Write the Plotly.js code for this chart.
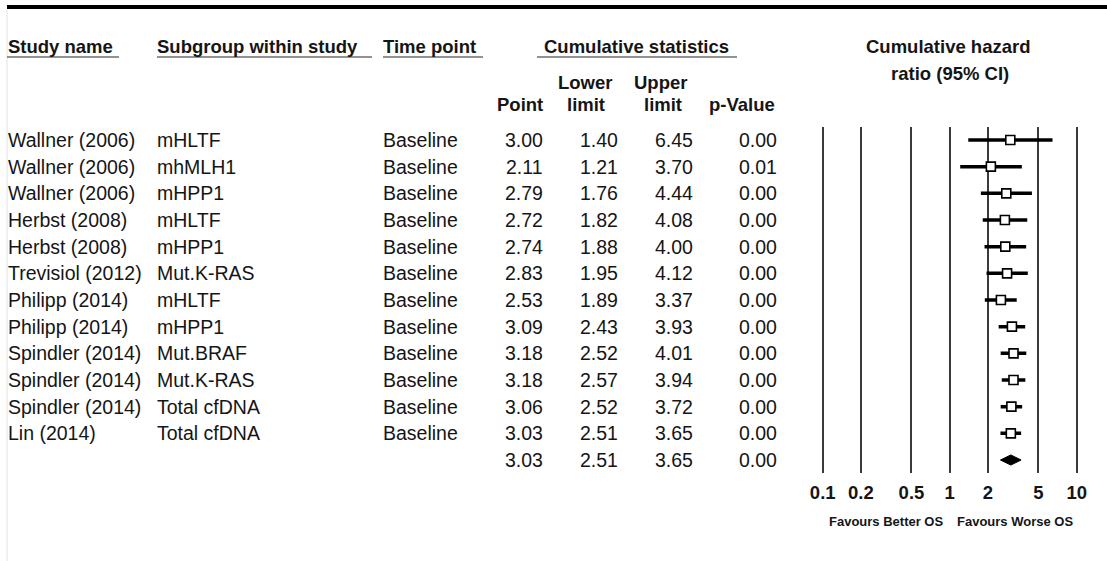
<!DOCTYPE html>
<html>
<head>
<meta charset="utf-8">
<script src="https://cdn.plot.ly/plotly-3.0.1.min.js"></script>
<style>html,body{margin:0;padding:0;background:#fff;}#chart{width:1107px;height:561px;}</style>
</head>
<body>
<div id="chart"></div>
<script>
// ---- data ----
const studyNames = ["Wallner (2006)","Wallner (2006)","Wallner (2006)","Herbst (2008)","Herbst (2008)","Trevisiol (2012)","Philipp (2014)","Philipp (2014)","Spindler (2014)","Spindler (2014)","Spindler (2014)","Lin (2014)"];
const subgroups = ["mHLTF","mhMLH1","mHPP1","mHLTF","mHPP1","Mut.K-RAS","mHLTF","mHPP1","Mut.BRAF","Mut.K-RAS","Total cfDNA","Total cfDNA"];
const timePoints = ["Baseline","Baseline","Baseline","Baseline","Baseline","Baseline","Baseline","Baseline","Baseline","Baseline","Baseline","Baseline"];
const pointHR = [3.00,2.11,2.79,2.72,2.74,2.83,2.53,3.09,3.18,3.18,3.06,3.03];
const lowerCI = [1.40,1.21,1.76,1.82,1.88,1.95,1.89,2.43,2.52,2.57,2.52,2.51];
const upperCI = [6.45,3.70,4.44,4.08,4.00,4.12,3.37,3.93,4.01,3.94,3.72,3.65];
const pValues = [0.00,0.01,0.00,0.00,0.00,0.00,0.00,0.00,0.00,0.00,0.00,0.00];
const summaryPoint = 3.03, summaryLower = 2.51, summaryUpper = 3.65, summaryP = 0.00;
const tickVals = [0.1,0.2,0.5,1,2,5,10];
const tickLabels = ["0.1","0.2","0.5","1","2","5","10"];

// ---- layout helpers ----
const W = 1107, H = 561;
const px = v => v / W;
const py = v => 1 - v / H;
const FONT = "Liberation Sans, Arial, sans-serif";
const TXT = "#151515";
const n = studyNames.length;
const rows = studyNames.map((_, i) => i);
const summaryRow = n;

// CI lines
const ciX = [], ciY = [];
rows.forEach(i => { ciX.push(lowerCI[i], upperCI[i], null); ciY.push(i, i, null); });

const dh = 0.19;
const traces = [
  {type:'scatter', mode:'lines', x:ciX, y:ciY, line:{color:'#000', width:3.5}, hoverinfo:'skip', showlegend:false},
  {type:'scatter', mode:'markers', x:pointHR, y:rows, marker:{symbol:'square', size:9, color:'#fff', line:{color:'#000', width:1.6}}, showlegend:false},
  {type:'scatter', mode:'lines', fill:'toself', fillcolor:'#000',
   x:[summaryLower, summaryPoint, summaryUpper, summaryPoint, summaryLower],
   y:[summaryRow, summaryRow - dh, summaryRow, summaryRow + dh, summaryRow],
   line:{color:'#000', width:1}, showlegend:false}
];

const ann = [];
function addText(text, x, y, xanchor, opts) {
  opts = opts || {};
  ann.push(Object.assign({text:text, x:x, y:y, xref:'paper', yref: opts.yref || 'paper', xanchor:xanchor, yanchor:'middle',
    showarrow:false, borderpad:0, borderwidth:0,
    font:{family:FONT, size: opts.size || 19.5, color:TXT}}, opts.extra || {}));
}
// rows
rows.forEach(i => {
  addText(studyNames[i], px(8), i, 'left', {yref:'y'});
  addText(subgroups[i], px(157), i, 'left', {yref:'y'});
  addText(timePoints[i], px(383), i, 'left', {yref:'y'});
  addText(pointHR[i].toFixed(2), px(543), i, 'right', {yref:'y'});
  addText(lowerCI[i].toFixed(2), px(618), i, 'right', {yref:'y'});
  addText(upperCI[i].toFixed(2), px(693), i, 'right', {yref:'y'});
  addText(pValues[i].toFixed(2), px(777), i, 'right', {yref:'y'});
});
addText(summaryPoint.toFixed(2), px(543), summaryRow, 'right', {yref:'y'});
addText(summaryLower.toFixed(2), px(618), summaryRow, 'right', {yref:'y'});
addText(summaryUpper.toFixed(2), px(693), summaryRow, 'right', {yref:'y'});
addText(summaryP.toFixed(2), px(777), summaryRow, 'right', {yref:'y'});

// headers
const HS = 18.5;
addText('<b>Study name</b>', px(8), py(46.5), 'left', {size:HS});
addText('<b>Subgroup within study</b>', px(157), py(46.5), 'left', {size:HS});
addText('<b>Time point</b>', px(383), py(46.5), 'left', {size:HS});
addText('<b>Cumulative statistics</b>', px(636), py(46.5), 'center', {size:HS});
addText('<b>Point</b>', px(543), py(104), 'right', {size:HS});
addText('<b>Lower</b>', px(585), py(82), 'center', {size:HS});
addText('<b>limit</b>', px(586), py(104), 'center', {size:HS});
addText('<b>Upper</b>', px(660), py(82), 'center', {size:HS});
addText('<b>limit</b>', px(663), py(104), 'center', {size:HS});
addText('<b>p-Value</b>', px(775), py(104), 'right', {size:HS});
addText('<b>Cumulative hazard</b>', px(948), py(46.5), 'center', {size:HS});
addText('<b>ratio (95% CI)</b>', px(950), py(74), 'center', {size:HS});
addText('<b>Favours Better OS</b>', px(943), py(521), 'right', {size:13});
addText('<b>Favours Worse OS</b>', px(957), py(521), 'left', {size:13});

const line = (x0,x1,y0,y1,color,width) => ({type:'line', xref:'paper', yref:'paper', x0:x0, x1:x1, y0:y0, y1:y1, line:{color:color, width:width}});
const shapes = [
  line(px(7), 1, py(7), py(7), '#000', 4),
  line(px(7), px(7), py(10), 0, '#e2e2e2', 1),
  line(px(7), px(119), py(57), py(57), '#6e6e6e', 1.5),
  line(px(157), px(372), py(57), py(57), '#6e6e6e', 1.5),
  line(px(383), px(483), py(57), py(57), '#6e6e6e', 1.5),
  line(px(537), px(737), py(57), py(57), '#6e6e6e', 1.5)
];

const layout = {
  width:W, height:H, margin:{l:0, r:0, t:0, b:0},
  paper_bgcolor:'#fff', plot_bgcolor:'#fff',
  showlegend:false,
  xaxis:{type:'log', range:[-1.02, 1.02], domain:[px(820.16), px(1079.24)],
    tickvals:tickVals, ticktext:tickLabels, showgrid:true, gridcolor:'#3a3a3a', gridwidth:2,
    zeroline:false, showline:false, ticks:'', fixedrange:true, ticklabelstandoff:6,
    tickfont:{family:FONT, size:18.5, color:TXT, weight:'bold'}},
  yaxis:{range:[12.4875, -0.4875], domain:[py(473), py(127)], showgrid:false, zeroline:false,
    showline:false, showticklabels:false, ticks:'', fixedrange:true},
  annotations:ann, shapes:shapes
};
Plotly.newPlot('chart', traces, layout, {displayModeBar:false, staticPlot:true});
</script>
</body>
</html>
